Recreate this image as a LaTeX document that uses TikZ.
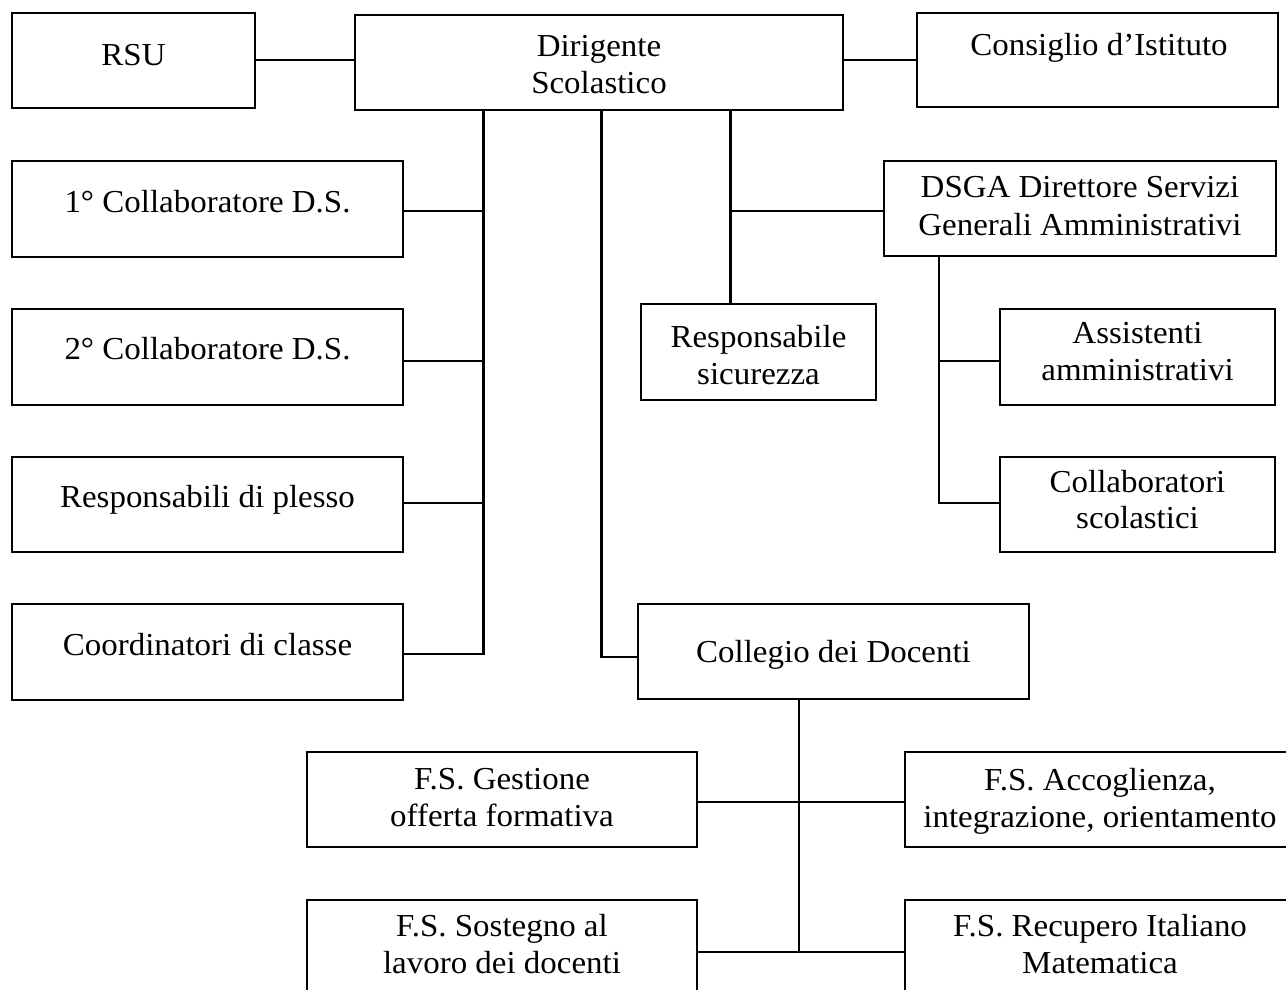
\documentclass[tikz,border=0pt]{standalone}
\usepackage{fontspec}
\setmainfont[FakeStretch=1.03]{Liberation Serif}
\begin{document}
\begin{tikzpicture}[x=1pt,y=-1pt,
  box/.style={draw, line width=1.6pt, rectangle, inner sep=0pt},
  lbl/.style={font=\fontsize{32}{38}\selectfont, inner sep=0pt, anchor=base},
  conn/.style={line width=2.3pt, line cap=rect}]
\useasboundingbox (0,0) rectangle (1286,989);
% boxes
\node[box, minimum width=243pt, minimum height=95pt] (rsu) at (133.5,60.5) {};
\node[box, minimum width=488pt, minimum height=95pt] (ds) at (599,62.5) {};
\node[box, minimum width=361pt, minimum height=94pt] (ci) at (1097.5,60) {};
\node[box, minimum width=391pt, minimum height=96pt] (c1) at (207.5,209) {};
\node[box, minimum width=391pt, minimum height=96pt] (c2) at (207.5,357) {};
\node[box, minimum width=391pt, minimum height=95pt] (rp) at (207.5,504.5) {};
\node[box, minimum width=391pt, minimum height=96pt] (cc) at (207.5,652) {};
\node[box, minimum width=391pt, minimum height=95pt] (cd) at (833.5,651.5) {};
\node[box, minimum width=392pt, minimum height=95pt] (dsga) at (1080,208.5) {};
\node[box, minimum width=235pt, minimum height=96pt] (rs) at (758.5,352) {};
\node[box, minimum width=275pt, minimum height=96pt] (aa) at (1137.5,357) {};
\node[box, minimum width=275pt, minimum height=95pt] (cs) at (1137.5,504.5) {};
\node[box, minimum width=390pt, minimum height=95pt] (fg) at (502,799.5) {};
\node[box, minimum width=390pt, minimum height=95pt] (fa) at (1100,799.5) {};
\node[box, minimum width=390pt, minimum height=95pt] (fso) at (502,947.5) {};
\node[box, minimum width=390pt, minimum height=95pt] (fr) at (1100,947.5) {};
% texts
\node[lbl] (t-rsu) at (133.5,65) {RSU};
\node[lbl] (t-ds1) at (599,56) {Dirigente};
\node[lbl] (t-ds2) at (599,93) {Scolastico};
\node[lbl] (t-ci) at (1099,55) {Consiglio d’Istituto};
\node[lbl] (t-c1) at (207.5,212) {1° Collaboratore D.S.};
\node[lbl] (t-c2) at (207.5,359) {2° Collaboratore D.S.};
\node[lbl] (t-rp) at (207.5,507) {Responsabili di plesso};
\node[lbl] (t-cc) at (207.5,655) {Coordinatori di classe};
\node[lbl] (t-cd) at (833.5,662) {Collegio dei Docenti};
\node[lbl] (t-dsga1) at (1080,197) {DSGA Direttore Servizi};
\node[lbl] (t-dsga2) at (1080,235) {Generali Amministrativi};
\node[lbl] (t-rs1) at (758.5,347) {Responsabile};
\node[lbl] (t-rs2) at (758.5,384) {sicurezza};
\node[lbl] (t-aa1) at (1137.5,343) {Assistenti};
\node[lbl] (t-aa2) at (1137.5,380) {amministrativi};
\node[lbl] (t-cs1) at (1137.5,492) {Collaboratori};
\node[lbl] (t-cs2) at (1137.5,528) {scolastici};
\node[lbl] (t-fg1) at (502,789) {F.S. Gestione};
\node[lbl] (t-fg2) at (502,826) {offerta formativa};
\node[lbl] (t-fa1) at (1100,790) {F.S. Accoglienza,};
\node[lbl] (t-fa2) at (1100,827) {integrazione, orientamento};
\node[lbl] (t-fso1) at (502,936) {F.S. Sostegno al};
\node[lbl] (t-fso2) at (502,973) {lavoro dei docenti};
\node[lbl] (t-fr1) at (1100,936) {F.S. Recupero Italiano};
\node[lbl] (t-fr2) at (1100,973) {Matematica};
% junction coordinates
\coordinate (top) at (0,60);
\coordinate (k1) at (483.5,211);
\coordinate (k2) at (483.5,361);
\coordinate (k3) at (483.5,503);
\coordinate (k4) at (483.5,654);
\coordinate (m1) at (601.5,657);
\coordinate (r1) at (730.5,211);
\coordinate (d1) at (939,361);
\coordinate (d2) at (939,503);
\coordinate (g1) at (799,802);
\coordinate (g2) at (799,952);
% connectors
\draw[conn, line cap=butt] (rsu.east |- top) -- (ds.west |- top);
\draw[conn, line cap=butt] (ds.east |- top) -- (ci.west |- top);
\draw[conn, line cap=butt] (k1 |- ds.south) -- (k4);
\draw[conn, line cap=butt] (k1) -- (k1 -| c1.east);
\draw[conn, line cap=butt] (k2) -- (k2 -| c2.east);
\draw[conn, line cap=butt] (k3) -- (k3 -| rp.east);
\draw[conn] (k4) -- (k4 -| cc.east);
\draw[conn, line cap=butt] (m1 |- ds.south) -- (m1);
\draw[conn] (m1) -- (m1 -| cd.west);
\draw[conn, line cap=butt] (r1 |- ds.south) -- (r1 |- rs.north);
\draw[conn, line cap=butt] (r1) -- (r1 -| dsga.west);
\draw[conn, line cap=butt] (d1 |- dsga.south) -- (d2);
\draw[conn, line cap=butt] (d1) -- (d1 -| aa.west);
\draw[conn] (d2) -- (d2 -| cs.west);
\draw[conn, line cap=butt] (g1 |- cd.south) -- (g2);
\draw[conn, line cap=butt] (g1 -| fg.east) -- (g1 -| fa.west);
\draw[conn, line cap=butt] (g2 -| fso.east) -- (g2 -| fr.west);
\end{tikzpicture}
\end{document}
